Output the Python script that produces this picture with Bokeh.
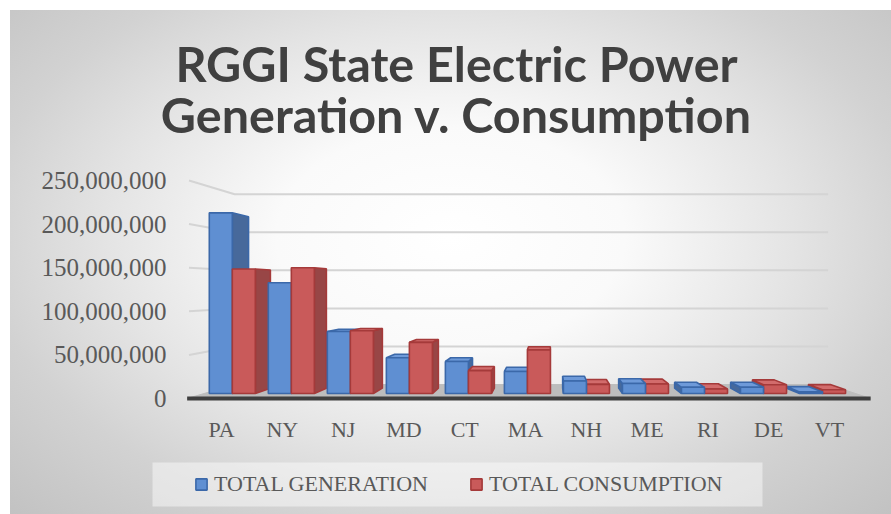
from bokeh.plotting import figure
from bokeh.models import (Range1d, FixedTicker, NumeralTickFormatter, Label, Legend,
                          LegendItem, BoxAnnotation, ColumnDataSource)
from bokeh.embed import file_html
from bokeh.resources import INLINE

# ---------------- data ----------------
states = ["PA", "NY", "NJ", "MD", "CT", "MA", "NH", "ME", "RI", "DE", "VT"]
total_generation = [217.0e6, 133.0e6, 74.5e6, 43.0e6, 38.5e6, 26.5e6,
                    15.0e6, 12.0e6, 7.5e6, 7.5e6, 2.0e6]
total_consumption = [149.5e6, 151.0e6, 75.5e6, 61.5e6, 27.5e6, 52.5e6,
                     11.0e6, 11.5e6, 5.5e6, 10.5e6, 4.5e6]
y_ticks = [0, 50e6, 100e6, 150e6, 200e6, 250e6]
series_names = ["TOTAL GENERATION", "TOTAL CONSUMPTION"]
title_lines = ["RGGI State Electric Power", "Generation v. Consumption"]

# ---------------- 3D projection (page pixel space -> data space) ----------------
VPX, VPY = 548.0, 288.0          # vanishing point
XF0, CW = 188.5, 61.8            # front plane: category origin / width
YF0, PPV = 398.0, 218.0 / 250e6  # front plane: zero line / px per unit
S_BACK = 0.873                   # scale of back wall
AX0, AXW = 190.6, 60.8           # axis mapping for the category axis
D0, D1 = 0.354, 0.74             # bar front / back depth
BAR_OFF = [0.07, 0.46]
BAR_W = 0.39
NCAT = len(states)


def to_data(X, Y):
    return (X - AX0) / AXW, (YF0 - Y) / PPV


def proj(c, v, d):
    s = 1 - (1 - S_BACK) * d
    X = VPX + (XF0 + CW * c - VPX) * s
    Y = VPY + (YF0 - PPV * v - VPY) * s
    return to_data(X, Y)


W, H = 891, 514
x0, y1 = to_data(0, 0)
x1, y0 = to_data(W, H)

p = figure(width=W, height=H, output_backend="svg", toolbar_location=None,
           title=None, x_range=Range1d(x0, x1), y_range=Range1d(y0, y1),
           min_border_left=0, min_border_right=0, min_border_top=0, min_border_bottom=0)
p.background_fill_alpha = 0
p.border_fill_alpha = 0
p.outline_line_color = None
p.xgrid.visible = False
p.ygrid.visible = False
p.styles = {"background": "radial-gradient(ellipse farthest-corner at 50% 45%, "
                          "#ffffff 0%, #fafafa 28%, #e4e4e4 55%, #d2d2d2 75%, #c2c2c2 100%) "
                          "10px 10px / 881px 504px no-repeat, #ffffff"}

# axes (drawn at fixed positions inside the canvas)
AX_FONT = "Liberation Serif"
AX_COLOR = "#595959"
yax = p.yaxis[0]
yax.fixed_location = to_data(180, 0)[0]
yax.ticker = FixedTicker(ticks=y_ticks)
yax.formatter = NumeralTickFormatter(format="0,0")
yax.axis_line_color = None
yax.major_tick_line_color = None
yax.major_tick_out = 0
yax.major_tick_in = 0
yax.minor_tick_line_color = None
yax.major_label_standoff = 14
yax.major_label_text_font = AX_FONT
yax.major_label_text_font_size = "25px"
yax.major_label_text_color = AX_COLOR

xax = p.xaxis[0]
xax.fixed_location = to_data(0, 403)[1]
xax.ticker = FixedTicker(ticks=[i + 0.5 for i in range(NCAT)])
xax.major_label_overrides = {i + 0.5: s for i, s in enumerate(states)}
xax.axis_line_color = None
xax.major_tick_line_color = None
xax.major_tick_out = 0
xax.major_tick_in = 0
xax.minor_tick_line_color = None
xax.major_label_standoff = 13
xax.major_label_text_font = AX_FONT
xax.major_label_text_font_size = "22px"
xax.major_label_text_color = AX_COLOR

# gridlines on side wall + back wall
gx, gy = [], []
for v in y_ticks[1:]:
    pts = [proj(0, v, 0), proj(0, v, 1), proj(NCAT, v, 1)]
    gx.append([q[0] for q in pts])
    gy.append([q[1] for q in pts])
p.multi_line(gx, gy, line_color="#d4d4d4", line_width=2)

# floor
floor = [proj(-0.03, 0, 0), proj(NCAT + 0.03, 0, 0), proj(NCAT, 0, 1), proj(0, 0, 1)]
p.patch([q[0] for q in floor], [q[1] for q in floor], fill_color="#bdbdbd",
        line_color="#bdbdbd", line_width=1)
edge = [proj(-0.03, 0, 0), proj(NCAT + 0.03, 0, 0)]
p.line([q[0] for q in edge], [q[1] for q in edge], line_color="#3f3f3f", line_width=4)

# bars
pal = [
    dict(front="#5f8fd2", side="#47699b", top="#6e9ad9", line="#3b68a9"),
    dict(front="#c95a5a", side="#984646", top="#d26c6c", line="#a53a3a"),
]
bars = []
for i in range(NCAT):
    for k, vals in enumerate([total_generation, total_consumption]):
        v = vals[i]
        c0 = i + BAR_OFF[k]
        c1 = c0 + BAR_W
        fl_b, fr_b, fr_t, fl_t = proj(c0, 0, D0), proj(c1, 0, D0), proj(c1, v, D0), proj(c0, v, D0)
        bl_b, br_b, br_t, bl_t = proj(c0, 0, D1), proj(c1, 0, D1), proj(c1, v, D1), proj(c0, v, D1)
        faces = []
        if XF0 + CW * c1 < VPX:
            faces.append(([fr_b, br_b, br_t, fr_t], pal[k]["side"], "side"))
        elif XF0 + CW * c0 > VPX:
            faces.append(([fl_b, bl_b, bl_t, fl_t], pal[k]["side"], "side"))
        if YF0 - PPV * v > VPY:
            faces.append(([fl_t, fr_t, br_t, bl_t], pal[k]["top"], "top"))
        faces.append(([fl_b, fr_b, fr_t, fl_t], pal[k]["front"], "front"))
        dist = abs(XF0 + CW * (c0 + c1) / 2 - VPX)
        bars.append((dist, k, faces, pal[k]["line"]))
bars.sort(key=lambda b: -b[0])
xs, ys, fills, lines = [], [], [], []
legend_index = {}
for _, k, faces, lc in bars:
    for poly, fc, kind in faces:
        if kind == "front" and k not in legend_index:
            legend_index[k] = len(xs)
        xs.append([q[0] for q in poly])
        ys.append([q[1] for q in poly])
        fills.append(fc)
        lines.append(lc)
src = ColumnDataSource(dict(xs=xs, ys=ys, fill=fills, line=lines))
r_bars = p.patches("xs", "ys", source=src, fill_color="fill", line_color="line", line_width=1.6)

# title
for j, t in enumerate(title_lines):
    tx, ty = to_data(456, 62 + 51 * j)
    p.add_layout(Label(x=tx, y=ty, text=t, text_align="center", text_baseline="alphabetic",
                       text_font="Lato", text_font_style="bold", text_font_size="48.5px",
                       text_color="#404040"))

# legend
bl, bb = to_data(152, 506)
br, bt = to_data(762, 462)
box = BoxAnnotation(left=bl, right=br, top=bt, bottom=bb, fill_color="white",
                    fill_alpha=0.45, line_color=None, level="underlay")
p.add_layout(box)
legend = Legend(items=[LegendItem(label=series_names[0], renderers=[r_bars], index=legend_index[0]),
                       LegendItem(label=series_names[1], renderers=[r_bars], index=legend_index[1])],
                orientation="horizontal", location=(194, 17), padding=0, margin=0,
                spacing=41, label_standoff=6, glyph_width=14, glyph_height=14,
                label_text_font=AX_FONT, label_text_font_size="22px",
                label_text_color=AX_COLOR, background_fill_alpha=0, border_line_alpha=0)
p.add_layout(legend)

open("out.html", "w").write(file_html(p, INLINE))
